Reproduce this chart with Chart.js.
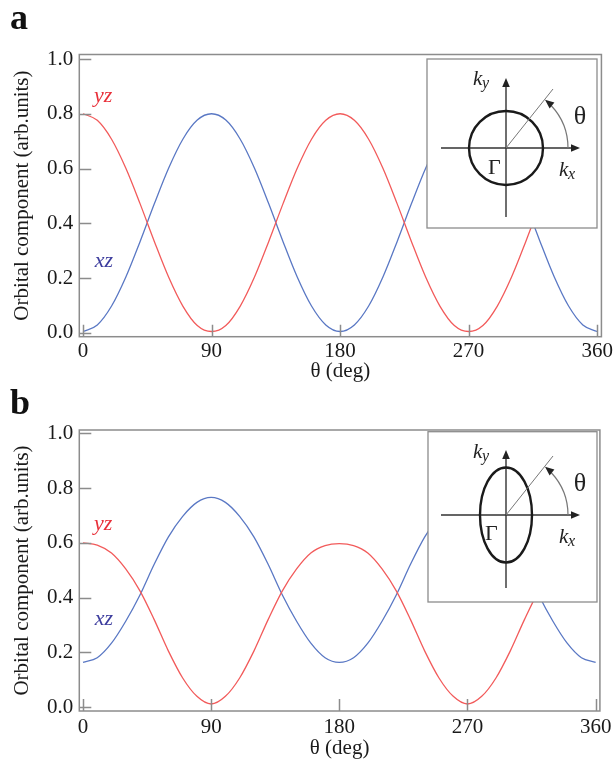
<!DOCTYPE html>
<html><head><meta charset="utf-8">
<script src="https://cdn.jsdelivr.net/npm/chart.js@4.4.0/dist/chart.umd.min.js"></script>
<style>
html,body{margin:0;padding:0;background:#fff;width:615px;height:766px;overflow:hidden;}
.wrap{position:absolute;left:0;width:615px;}
.lab{position:absolute;font-family:"Liberation Serif",serif;font-weight:bold;font-size:36px;line-height:1;color:#111;}
</style></head><body>
<div class="wrap" style="top:0;height:395px"><canvas id="c1"></canvas></div>
<div class="wrap" style="top:383px;height:383px"><canvas id="c2"></canvas></div>
<div class="lab" style="left:10px;top:-1px">a</div>
<div class="lab" style="left:10px;top:384px">b</div>
<script>
// ---- data ----
const theta = [0,10,20,30,40,50,60,70,80,90,100,110,120,130,140,150,160,170,180,
  190,200,210,220,230,240,250,260,270,280,290,300,310,320,330,340,350,360];
const yzA = [0.800,0.776,0.707,0.601,0.471,0.333,0.203,0.097,0.027,0.005,
  0.027,0.097,0.203,0.333,0.471,0.601,0.707,0.776,0.800,
  0.776,0.707,0.601,0.471,0.333,0.203,0.097,0.027,0.005,
  0.027,0.097,0.203,0.333,0.471,0.601,0.707,0.776,0.800];
const xzA = [0.005,0.029,0.098,0.204,0.334,0.472,0.602,0.708,0.777,0.800,
  0.777,0.708,0.602,0.472,0.334,0.204,0.098,0.029,0.005,
  0.029,0.098,0.204,0.334,0.472,0.602,0.708,0.777,0.800,
  0.777,0.708,0.602,0.472,0.334,0.204,0.098,0.029,0.005];
const yzB = [0.600,0.592,0.563,0.505,0.425,0.320,0.205,0.107,0.040,0.012,
  0.040,0.107,0.205,0.320,0.425,0.505,0.563,0.590,0.597,
  0.590,0.563,0.505,0.425,0.320,0.205,0.107,0.040,0.012,
  0.040,0.107,0.205,0.320,0.425,0.505,0.563,0.592,0.600];
const xzB = [0.164,0.181,0.234,0.314,0.410,0.522,0.622,0.697,0.748,0.766,
  0.748,0.697,0.622,0.522,0.410,0.314,0.234,0.181,0.164,
  0.181,0.234,0.314,0.410,0.522,0.622,0.697,0.748,0.766,
  0.748,0.697,0.622,0.522,0.410,0.314,0.234,0.181,0.164];
const xTicks = [0,90,180,270,360];
const yTicks = [0,0.2,0.4,0.6,0.8,1.0];
const xTitle = 'θ (deg)';
const yTitle = 'Orbital component (arb.units)';
const seriesNames = ['yz','xz'];

// ---- styles ----
const RED = '#f25b5b', BLUE = '#5a78c4';
const RED_T = '#e8303a', BLUE_T = '#3d3d9e';
const SERIF = '"Liberation Serif", "Times New Roman", serif';

function arrowHead(ctx, tx, ty, dx, dy, len, hw){
  const n = Math.hypot(dx,dy); dx/=n; dy/=n;
  const bx = tx - dx*len, by = ty - dy*len;
  ctx.beginPath();
  ctx.moveTo(tx,ty);
  ctx.lineTo(bx - dy*hw, by + dx*hw);
  ctx.lineTo(bx + dy*hw, by - dx*hw);
  ctx.closePath(); ctx.fill();
}

function drawInset(ctx, o){
  const {box, cx, cy, rx, ry, vTop, vBot, gx} = o;
  ctx.save();
  ctx.fillStyle = '#fff';
  ctx.fillRect(box.l, box.t, box.r-box.l, box.b-box.t);
  ctx.strokeStyle = '#8c8c8c'; ctx.lineWidth = 1.3;
  ctx.strokeRect(box.l, box.t, box.r-box.l, box.b-box.t);
  // axes
  ctx.strokeStyle = '#333'; ctx.fillStyle = '#222'; ctx.lineWidth = 1.4;
  ctx.beginPath();
  ctx.moveTo(cx-65, cy); ctx.lineTo(cx+68, cy);
  ctx.moveTo(cx, cy+vBot); ctx.lineTo(cx, cy-vTop+6);
  ctx.stroke();
  arrowHead(ctx, cx+74, cy, 1, 0, 9, 3.8);
  arrowHead(ctx, cx, cy-vTop, 0, -1, 9, 3.8);
  // ellipse
  ctx.strokeStyle = '#1a1a1a'; ctx.lineWidth = 2.4;
  ctx.beginPath(); ctx.ellipse(cx, cy, rx, ry, 0, 0, Math.PI*2); ctx.stroke();
  // diagonal
  ctx.strokeStyle = '#777'; ctx.lineWidth = 1;
  ctx.beginPath(); ctx.moveTo(cx, cy); ctx.lineTo(cx+47, cy-59); ctx.stroke();
  // arc
  const R = 62, aEnd = 51*Math.PI/180;
  ctx.strokeStyle = '#777'; ctx.lineWidth = 1.2;
  ctx.beginPath(); ctx.arc(cx, cy, R, 0, -(aEnd-0.14), true); ctx.stroke();
  ctx.fillStyle = '#222';
  arrowHead(ctx, cx+R*Math.cos(aEnd), cy-R*Math.sin(aEnd), -Math.sin(aEnd), -Math.cos(aEnd), 9, 3.8);
  // labels
  ctx.fillStyle = '#222'; ctx.textBaseline = 'alphabetic'; ctx.textAlign = 'left';
  ctx.font = 'italic 21px ' + SERIF;
  ctx.fillText('k', cx-33, cy+o.kyY);
  ctx.font = 'italic 16px ' + SERIF;
  ctx.fillText('y', cx-24, cy+o.kyY+3);
  ctx.font = 'italic 21px ' + SERIF;
  ctx.fillText('k', cx+53, cy+28);
  ctx.font = 'italic 16px ' + SERIF;
  ctx.fillText('x', cx+62, cy+31);
  ctx.font = '26px ' + SERIF; ctx.textAlign = 'center'; ctx.textBaseline = 'middle';
  ctx.fillText('θ', cx+74, cy-31);
  ctx.font = '22px ' + SERIF; ctx.textAlign = 'left'; ctx.textBaseline = 'alphabetic';
  ctx.fillText('Γ', cx+gx, cy+o.gy);
  ctx.restore();
}

const decor = {
  id: 'decor',
  afterDraw(chart, args, opts){
    const {ctx, chartArea:a, scales:{x, y}} = chart;
    drawInset(ctx, opts.inset);
    ctx.save();
    ctx.strokeStyle = '#8c8c8c'; ctx.lineWidth = 1.5;
    ctx.strokeRect(a.left, a.top, a.right-a.left, a.bottom-a.top);
    ctx.beginPath();
    y.ticks.forEach(t => { const p = Math.round(y.getPixelForValue(t.value))+0.5; ctx.moveTo(a.left, p); ctx.lineTo(a.left+12, p); });
    x.ticks.forEach(t => { const p = Math.round(x.getPixelForValue(t.value))+0.5; ctx.moveTo(p, a.bottom); ctx.lineTo(p, a.bottom-12); });
    ctx.stroke();
    // series labels
    ctx.font = 'italic 22px ' + SERIF; ctx.textAlign = 'left'; ctx.textBaseline = 'alphabetic';
    opts.labels.forEach(l => {
      ctx.fillStyle = l.color;
      ctx.fillText(l.text, x.getPixelForValue(l.x), y.getPixelForValue(l.y));
    });
    ctx.restore();
  }
};

function makeChart(id, yz, xz, cfg){
  const pts = arr => theta.map((t,i) => ({x:t, y:arr[i]}));
  return new Chart(document.getElementById(id), {
    type: 'line',
    data: { datasets: [
      {label: seriesNames[0], data: pts(yz), borderColor: RED, borderWidth: 1.3, pointRadius: 0, cubicInterpolationMode: 'monotone', fill: false},
      {label: seriesNames[1], data: pts(xz), borderColor: BLUE, borderWidth: 1.3, pointRadius: 0, cubicInterpolationMode: 'monotone', fill: false}
    ]},
    options: {
      responsive: true, maintainAspectRatio: false, animation: false,
      layout: { padding: { top: cfg.top, right: 13.5, left: 0, bottom: 0 } },
      plugins: { legend: {display: false}, tooltip: {enabled: false},
        decor: { inset: cfg.inset, labels: cfg.labels } },
      scales: {
        x: { type: 'linear', min: -2.6, max: 363,
          afterBuildTicks: s => { s.ticks = xTicks.map(v => ({value: v})); },
          afterFit: s => { s.height = cfg.xh; },
          grid: {display: false, drawTicks: false}, border: {display: false},
          ticks: { autoSkip: false, maxRotation: 0, padding: cfg.xpad, color: '#1a1a1a',
            font: {family: SERIF, size: 21}, callback: v => String(v) },
          title: { display: true, text: xTitle, color: '#1a1a1a',
            font: {family: SERIF, size: 21}, padding: {top: 0, bottom: cfg.tpad} } },
        y: { min: cfg.ymin, max: cfg.ymax,
          afterBuildTicks: s => { s.ticks = yTicks.map(v => ({value: v})); },
          afterFit: s => { s.width = 79.3; },
          grid: {display: false, drawTicks: false}, border: {display: false},
          ticks: { padding: 6, color: '#1a1a1a', font: {family: SERIF, size: 21},
            callback: v => Number(v).toFixed(1) },
          title: { display: true, text: yTitle, color: '#1a1a1a',
            font: {family: SERIF, size: 21}, padding: {top: 10, bottom: 0} } }
      }
    },
    plugins: [decor]
  });
}

makeChart('c1', yzA, xzA, {
  top: 54.5, xh: 395-336.7, xpad: 2, tpad: 11, ymin: -0.014, ymax: 1.0164,
  inset: {box:{l:427, t:59, r:597, b:228}, cx:506, cy:148, rx:37, ry:37, vTop:70, vBot:69, gx:-18, gy:26, kyY:-63},
  labels: [{text: seriesNames[0], x: 7.7, y: 0.844, color: RED_T}, {text: seriesNames[1], x: 8.2, y: 0.2416, color: BLUE_T}]
});
makeChart('c2', yzB, xzB, {
  top: 47, xh: 383-328, xpad: 3.5, tpad: 5, ymin: -0.0135, ymax: 1.012,
  inset: {box:{l:428, t:48.7, r:597, b:219}, cx:506, cy:132, rx:26, ry:47.5, vTop:65, vBot:73, gx:-21, gy:25, kyY:-57},
  labels: [{text: seriesNames[0], x: 7.7, y: 0.647, color: RED_T}, {text: seriesNames[1], x: 8.2, y: 0.300, color: BLUE_T}]
});
</script>
</body></html>
